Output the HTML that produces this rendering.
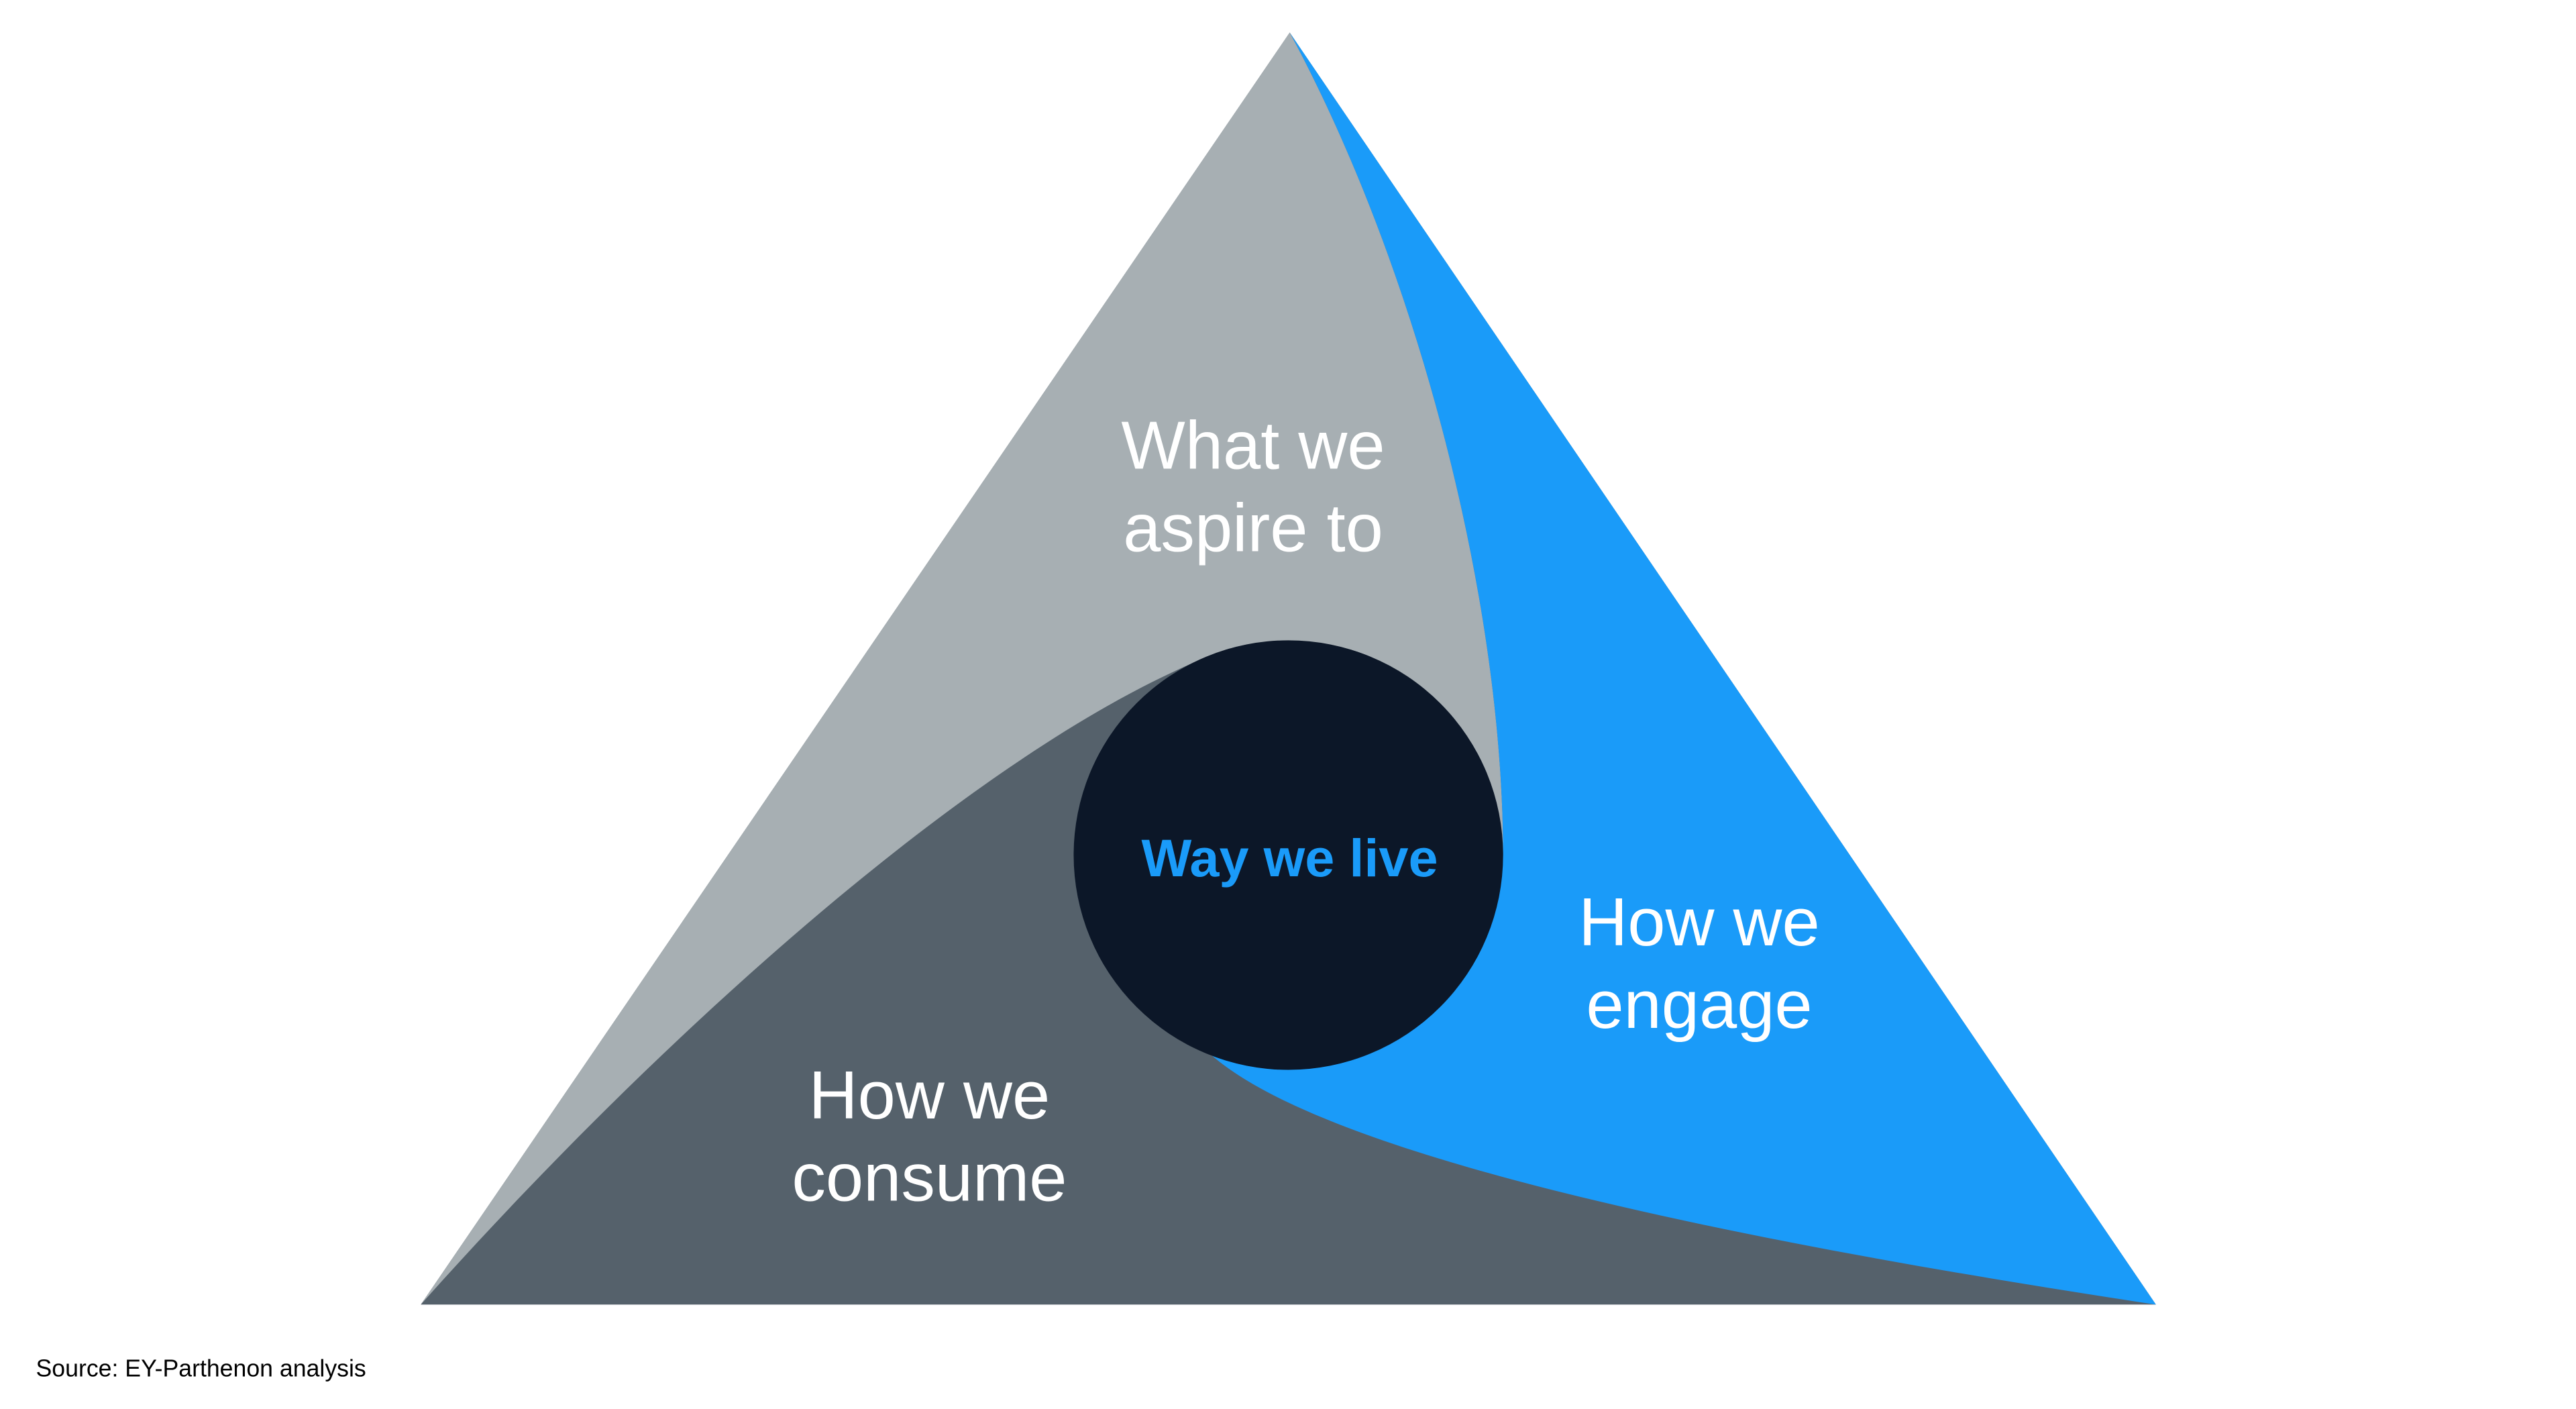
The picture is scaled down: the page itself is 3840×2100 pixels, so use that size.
<!DOCTYPE html>
<html><head><style>
html,body{margin:0;padding:0;background:#fff;}
svg{display:block;}
</style></head><body>
<svg width="3840" height="2100" viewBox="0 0 3840 2100" xmlns="http://www.w3.org/2000/svg">
<g transform="scale(0.991)">
<polygon points="1940,49 633,1962 3243,1962" fill="#55616b"/>
<path d="M1940,49 L633,1962 C1000,1550 1500,1100 1850,975 L1940,1286 L2261,1286 C2261,900 2130,400 1940,49 Z" fill="#a7afb3"/>
<path d="M1940,49 L3243,1962 C2700,1880 2000,1750 1818,1583 L1940,1286 L2261,1286 C2261,900 2130,400 1940,49 Z" fill="#1a9bf9"/>
<circle cx="1938" cy="1286" r="323" fill="#0c1728"/>
<g font-family="Liberation Sans, sans-serif" fill="#fff" font-size="102" text-anchor="middle">
<text x="1885" y="705">What we</text>
<text x="1885" y="829">aspire to</text>
<text x="2556" y="1422">How we</text>
<text x="2556" y="1546">engage</text>
<text x="1398" y="1682">How we</text>
<text x="1398" y="1806">consume</text>
</g>
<text x="1940" y="1318" font-family="Liberation Sans, sans-serif" font-weight="bold" font-size="80" fill="#1a9bf9" text-anchor="middle">Way we live</text>
<text x="54" y="2070" font-family="Liberation Sans, sans-serif" font-size="36" fill="#000">Source: EY-Parthenon analysis</text>
</g>
</svg>
</body></html>
